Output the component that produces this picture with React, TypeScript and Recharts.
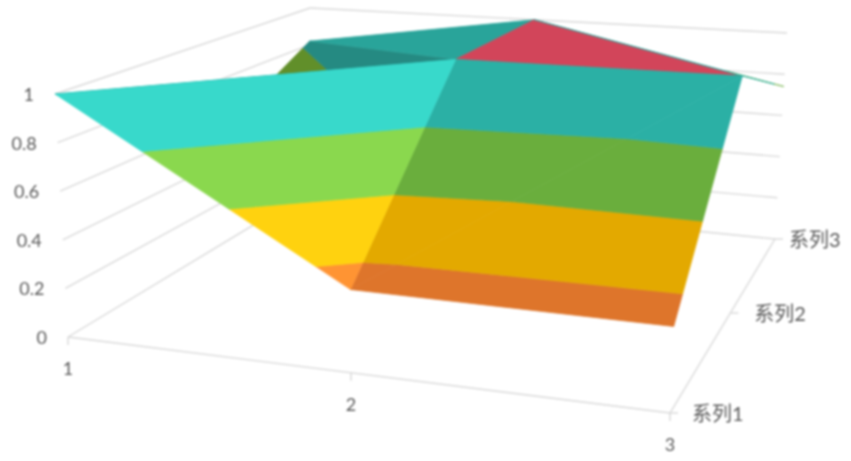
import { Scatter, ScatterChart, XAxis, YAxis } from 'recharts';

const WIDTH = 851;
const HEIGHT = 461;

const categories = ['1', '2', '3'];
const seriesNames = ['系列1', '系列2', '系列3'];
const series1 = [1, 0.32, 0.31];
const series2 = [0.5, 1, 1];
const series3 = [0.82, 1, 0.74];
const valueTicks = [0, 0.2, 0.4, 0.6, 0.8, 1];

const grid = [series1, series2, series3];

// value bands, lowest first
const bandEdges = [0.2, 0.4, 0.6, 0.8, 1, 1.2];
const RED = '#D2455A';
const lightFace = ['#FF9433', '#FFD20F', '#8AD84E', '#38D9CB', RED];
const sideFace = ['#DE752B', '#E3A900', '#6AAE3D', '#2BB0A5', RED];
const backFace = ['#B06020', '#A08000', '#618F2A', '#29A49A', RED];
const underFace = ['#B06020', '#A08000', '#618F2A', '#258A82', RED];

// box corners on screen: floor and top, [x1/s1, x3/s1, x3/s3, x1/s3]
const floor = [[68, 337], [670, 413], [775, 239], [308, 192]];
const top = [[55, 94], [682, 134], [787, 33], [310, 8]];

const warp = (t: number, a: number) => (t * a) / (1 + t * (a - 1));
const mix = (a: number, b: number, t: number) => a + (b - a) * t;

const quad = (c: number[][], u: number, v: number) => {
  const fx = mix(c[0][0], c[1][0], u);
  const fy = mix(c[0][1], c[1][1], u);
  const bx = mix(c[3][0], c[2][0], u);
  const by = mix(c[3][1], c[2][1], u);
  return [mix(fx, bx, v), mix(fy, by, v)];
};

const project = (i: number, j: number, z: number) => {
  const u = warp(i / 2, 0.887);
  const v = warp(j / 2, 1.35);
  const a = quad(floor, u, v);
  const b = quad(top, u, v);
  return { x: mix(a[0], b[0], z), y: mix(a[1], b[1], z), z };
};

type Pt = { x: number; y: number; z: number };

const clip = (poly: Pt[], level: number, keepAbove: boolean) => {
  const out: Pt[] = [];
  poly.forEach((p, n) => {
    const q = poly[(n + 1) % poly.length];
    const pIn = keepAbove ? p.z >= level : p.z <= level;
    const qIn = keepAbove ? q.z >= level : q.z <= level;
    if (pIn) out.push(p);
    if (pIn !== qIn) {
      const t = (level - p.z) / (q.z - p.z);
      out.push({ x: mix(p.x, q.x, t), y: mix(p.y, q.y, t), z: level });
    }
  });
  return out;
};

const area = (poly: Pt[]) =>
  Math.abs(
    poly.reduce((s, p, n) => {
      const q = poly[(n + 1) % poly.length];
      return s + p.x * q.y - q.x * p.y;
    }, 0) / 2,
  );

const node = (i: number, j: number) => project(i, j, grid[j][i]);

// back to front
const facets: { corners: number[][]; colors: string[] }[] = [
  { corners: [[0, 2], [1, 1], [0, 1]], colors: underFace },
  { corners: [[0, 2], [1, 2], [1, 1]], colors: backFace },
  { corners: [[1, 1], [1, 2], [2, 1]], colors: sideFace },
  { corners: [[1, 2], [2, 2], [2, 1]], colors: sideFace },
  { corners: [[1, 0], [2, 0], [2, 1]], colors: sideFace },
  { corners: [[1, 0], [2, 1], [1, 1]], colors: sideFace },
  { corners: [[0, 0], [1, 1], [0, 1]], colors: underFace },
  { corners: [[0, 0], [1, 0], [1, 1]], colors: lightFace },
];

const patches: { points: Pt[]; color: string }[] = [];
facets.forEach(({ corners, colors }) => {
  const tri = corners.map(([i, j]) => node(i, j));
  colors.forEach((color, b) => {
    const piece = clip(clip(tri, bandEdges[b], true), bandEdges[b + 1], false);
    if (piece.length > 2 && area(piece) > 0.5) {
      patches.push({ points: [...piece, piece[0]], color });
    }
  });
});

const gridLines = valueTicks.flatMap((z) => [
  [project(0, 0, z), project(0, 2, z)],
  [project(0, 2, z), project(2, 2, z)],
]);
const floorEdge = [project(0, 0, 0), project(2, 0, 0), project(2, 2, 0)];

const down = (p: Pt, dy: number) => ({ ...p, y: p.y + dy });
const right = (p: Pt, dx: number) => ({ ...p, x: p.x + dx });
const ticks = [
  ...categories.map((_, i) => [project(i, 0, 0), down(project(i, 0, 0), 8)]),
  ...seriesNames.map((_, j) => [project(2, j, 0), right(project(2, j, 0), 8)]),
];

const valueLabels = valueTicks.map((z) => ({
  ...right(project(0, 0, z), -21),
  label: String(z),
}));
const categoryLabels = categories.map((c, i) => ({
  ...down(project(i, 0, 0), 31),
  label: c,
}));
const seriesOffsets = [22, 24, 14];
const seriesLabels = seriesNames.map((s, j) => ({
  ...right(project(2, j, 0), seriesOffsets[j]),
  label: s,
}));

const NoDot = () => <g />;

const makeText = (anchor: 'start' | 'middle' | 'end', size: number) => (props: any) => (
  <text
    x={props.cx}
    y={props.cy}
    textAnchor={anchor}
    dominantBaseline="central"
    fontSize={size}
    fontFamily='Lato, "Noto Sans CJK SC", sans-serif'
    fill="#595959"
  >
    {props.payload.label}
  </text>
);

export default function App() {
  return (
    <div
      style={{
        position: 'absolute',
        left: 0,
        top: 0,
        width: WIDTH,
        height: HEIGHT,
        background: '#fff',
        overflow: 'hidden',
        filter: 'blur(0.8px)',
      }}
    >
      <ScatterChart width={WIDTH} height={HEIGHT} margin={{ top: 0, right: 0, bottom: 0, left: 0 }}>
        <XAxis type="number" dataKey="x" domain={[0, WIDTH]} hide />
        <YAxis type="number" dataKey="y" domain={[0, HEIGHT]} reversed hide />
        {[...gridLines, floorEdge, ...ticks].map((pts, n) => (
          <Scatter
            key={`grid-${n}`}
            data={pts}
            shape={NoDot}
            line={{ stroke: '#D9D9D9', strokeWidth: 1.4 }}
            isAnimationActive={false}
          />
        ))}
        {patches.map((patch, n) => (
          <Scatter
            key={`patch-${n}`}
            data={patch.points}
            shape={NoDot}
            line={{ fill: patch.color, stroke: patch.color, strokeWidth: 0.7 }}
            isAnimationActive={false}
          />
        ))}
        <Scatter data={valueLabels} shape={makeText('end', 18)} isAnimationActive={false} />
        <Scatter data={categoryLabels} shape={makeText('middle', 18)} isAnimationActive={false} />
        <Scatter data={seriesLabels} shape={makeText('start', 20)} isAnimationActive={false} />
      </ScatterChart>
    </div>
  );
}
